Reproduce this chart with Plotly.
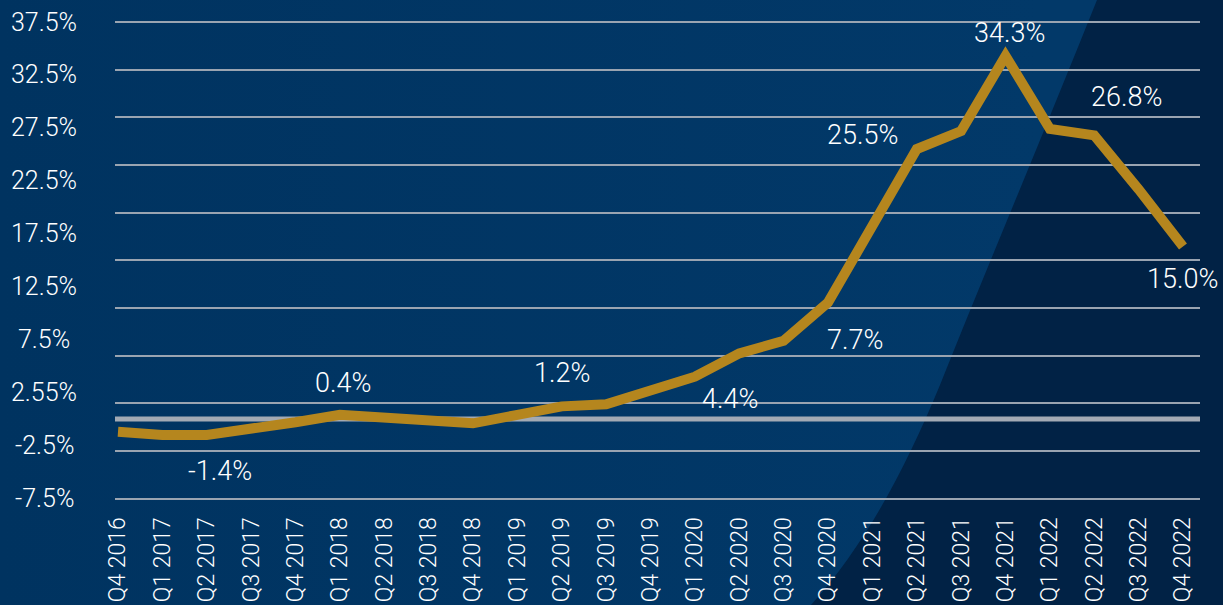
import base64
import plotly.graph_objects as go

# ---------------- data ----------------
QUARTERS = [
    "Q4 2016", "Q1 2017", "Q2 2017", "Q3 2017", "Q4 2017",
    "Q1 2018", "Q2 2018", "Q3 2018", "Q4 2018",
    "Q1 2019", "Q2 2019", "Q3 2019", "Q4 2019",
    "Q1 2020", "Q2 2020", "Q3 2020", "Q4 2020",
    "Q1 2021", "Q2 2021", "Q3 2021", "Q4 2021",
    "Q1 2022", "Q2 2022", "Q3 2022", "Q4 2022",
]
GROWTH = [
    -1.2, -1.5, -1.5, -1.0, -0.3,
    0.4, 0.2, 0.0, -0.4,
    0.4, 1.2, 1.4, 2.7,
    4.0, 6.2, 7.4, 11.0,
    18.2, 25.5, 27.2, 34.3,
    27.4, 26.8, 21.7, 16.3,
]
LABEL_QUARTERS = ["Q2 2017", "Q1 2018", "Q2 2019", "Q1 2020", "Q4 2020",
                  "Q2 2021", "Q4 2021", "Q2 2022", "Q4 2022"]
LABEL_TEXTS = ["-1.4%", "0.4%", "1.2%", "4.4%", "7.7%",
               "25.5%", "34.3%", "26.8%", "15.0%"]
Y_TICK_VALUES = [37.5, 32.5, 27.5, 22.5, 17.5, 12.5, 7.5, 2.5, -2.5, -7.5]
Y_TICK_TEXTS = ["37.5%", "32.5%", "27.5%", "22.5%", "17.5%", "12.5%",
                "7.5%", "2.55%", "-2.5%", "-7.5%"]
GRID_VALUES = [-7.5, -3.0, 1.5, 6.0, 10.5, 15.0, 19.5, 24.0, 28.5, 33.0, 37.5]

# ---------------- styling ----------------
W, H = 1223, 605
ML, MR, MT, MB = 115, 23, 0, 100
PW, PH = W - ML - MR, H - MT - MB
FONT = "Roboto, 'Open Sans', sans-serif"
FW = 300
GOLD = "#B5861E"
WHITE = "#FFFFFF"
LABEL_SHIFTS = [(13, -36), (3, 32), (0, 33), (35, -22), (27, -37),
                (-54, 14), (4, 23), (32, 38), (-1, -33)]

bg_svg = f"""<svg xmlns='http://www.w3.org/2000/svg' width='{W}' height='{H}' viewBox='0 0 {W} {H}'>
<defs><linearGradient id='g' x1='0' y1='0' x2='1' y2='0'>
<stop offset='0' stop-color='#003360'/><stop offset='0.85' stop-color='#023969'/>
</linearGradient></defs>
<rect width='{W}' height='{H}' fill='url(#g)'/>
<path d='M1097,0 C1045,130 990,260 940,385 C905,470 865,545 811,605 L{W},605 L{W},0 Z' fill='#012245'/>
</svg>"""
bg_uri = "data:image/svg+xml;base64," + base64.b64encode(bg_svg.encode()).decode()

fig = go.Figure()
fig.add_trace(go.Scatter(
    x=QUARTERS, y=GROWTH, mode="lines",
    line=dict(color=GOLD, width=10),
    hoverinfo="skip", showlegend=False,
))

# x range so that first/last categories land where the reference puts them
x_first_px, x_step_px = 118, (1183 - 118) / (len(QUARTERS) - 1)
x_range = [(ML - x_first_px) / x_step_px, (ML + PW - x_first_px) / x_step_px]
# y range: -7.5 -> 498.5px, 37.5 -> 22px
y_px_per = (498.5 - 22) / 45.0
y_top = 37.5 + (22 - MT) / y_px_per
y_bot = -7.5 - (MT + PH - 498.5) / y_px_per

annotations = []
for v, t in zip(Y_TICK_VALUES, Y_TICK_TEXTS):
    annotations.append(dict(
        xref="paper", x=(44 - ML) / PW, yref="y", y=v,
        text=t, showarrow=False, xanchor="center", yanchor="middle",
        font=dict(family=FONT, size=25, color=WHITE, weight=FW),
    ))
for q, t, (dx, dy) in zip(LABEL_QUARTERS, LABEL_TEXTS, LABEL_SHIFTS):
    annotations.append(dict(
        xref="x", x=q, yref="y", y=GROWTH[QUARTERS.index(q)],
        text=t, showarrow=False, xanchor="center", yanchor="middle",
        xshift=dx, yshift=dy,
        font=dict(family=FONT, size=27, color=WHITE, weight=FW),
    ))

fig.update_layout(
    width=W, height=H, autosize=False,
    margin=dict(l=ML, r=MR, t=MT, b=MB, pad=0),
    paper_bgcolor="#003360", plot_bgcolor="rgba(0,0,0,0)",
    font=dict(family=FONT, color=WHITE),
    showlegend=False,
    images=[dict(
        source=bg_uri, xref="paper", yref="paper",
        x=-ML / PW, y=1 + MT / PH, sizex=W / PW, sizey=H / PH,
        xanchor="left", yanchor="top", sizing="stretch", layer="below",
    )],
    shapes=[dict(
        type="line", xref="paper", x0=0, x1=1, yref="y", y0=0, y1=0,
        line=dict(color="#A3AAB4", width=5), layer="between",
    )],
    annotations=annotations,
    xaxis=dict(
        type="category", range=x_range, showgrid=False, zeroline=False,
        showline=False, tickangle=-90, ticks="outside", ticklen=2,
        tickcolor="rgba(0,0,0,0)",
        tickfont=dict(family=FONT, size=23, color=WHITE, weight=FW),
    ),
    yaxis=dict(
        range=[y_bot, y_top], tickvals=GRID_VALUES, showticklabels=False,
        showgrid=True, gridcolor="#9AA4B1", gridwidth=2,
        zeroline=False, showline=False, ticks="",
    ),
)

fig.write_html("out.html")
